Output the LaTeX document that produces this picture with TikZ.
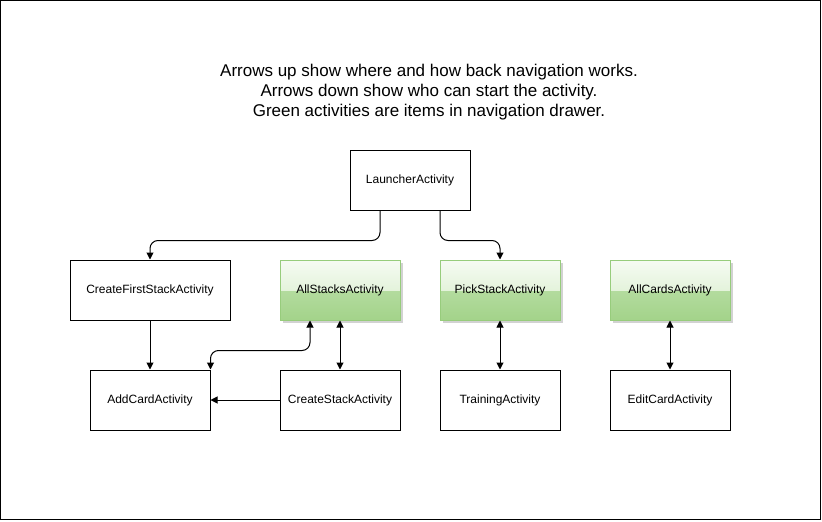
\documentclass[tikz,border=0pt]{standalone}
\usepackage{fontspec}
\setmainfont{Liberation Sans}
\usetikzlibrary{arrows.meta,shadows}
\definecolor{gbot}{HTML}{A3D38A}
\definecolor{gtop}{HTML}{F6FBF3}
\definecolor{gmid}{HTML}{D2EBC4}
\definecolor{gline}{HTML}{97CC7C}
\begin{document}
\begin{tikzpicture}[x=1pt,y=-1pt,
  box/.style={draw=black,line width=1pt,fill=white,minimum width=120pt,minimum height=60pt,inner sep=0pt,font=\fontsize{12}{14}\selectfont},
  gbox/.style={box,draw=gline,top color=gmid!70!gbot,bottom color=gbot,
    drop shadow={opacity=0.5,shadow xshift=3pt,shadow yshift=-3pt,fill=gray!70},
    path picture={\fill[top color=gtop,bottom color=gmid] (path picture bounding box.north west) rectangle (path picture bounding box.east);}},
  arr/.style={line width=1pt,-{Triangle[length=7pt,width=7pt]},rounded corners=8pt},
  barr/.style={line width=1pt,{Triangle[length=7pt,width=7pt]}-{Triangle[length=7pt,width=7pt]},rounded corners=8pt}
]
\useasboundingbox (0,0) rectangle (822,522);
\draw[line width=1pt] (0.5,0.5) rectangle (820,519.5);
\node[align=center,font=\fontsize{17}{19.8}\selectfont] (title) at (429,92)
  {Arrows up show where and how back navigation works.\\Arrows down show who can start the activity.\\Green activities are items in navigation drawer.};
\node[box] (L) at (410,180) {LauncherActivity};
\node[box,minimum width=160pt] (CF) at (150,290) {CreateFirstStackActivity};
\node[gbox] (AS) at (340,290) {AllStacksActivity};
\node[gbox] (PS) at (500,290) {PickStackActivity};
\node[gbox] (AL) at (670,290) {AllCardsActivity};
\node[box] (AC) at (150,400) {AddCardActivity};
\node[box] (CS) at (340,400) {CreateStackActivity};
\node[box] (TR) at (500,400) {TrainingActivity};
\node[box] (EC) at (670,400) {EditCardActivity};
\draw[arr] ([xshift=-30pt]L.south) -- ++(0,30) -| (CF.north);
\draw[arr] ([xshift=30pt]L.south) -- ++(0,30) -| (PS.north);
\draw[arr] (CF.south) -- (AC.north);
\draw[barr] (AS.south) -- (CS.north);
\draw[barr] ([xshift=-30pt]AS.south) -- ++(0,30) -| (AC.north east);
\draw[arr] (CS.west) -- (AC.east);
\draw[barr] (PS.south) -- (TR.north);
\draw[barr] (AL.south) -- (EC.north);
\end{tikzpicture}
\end{document}
